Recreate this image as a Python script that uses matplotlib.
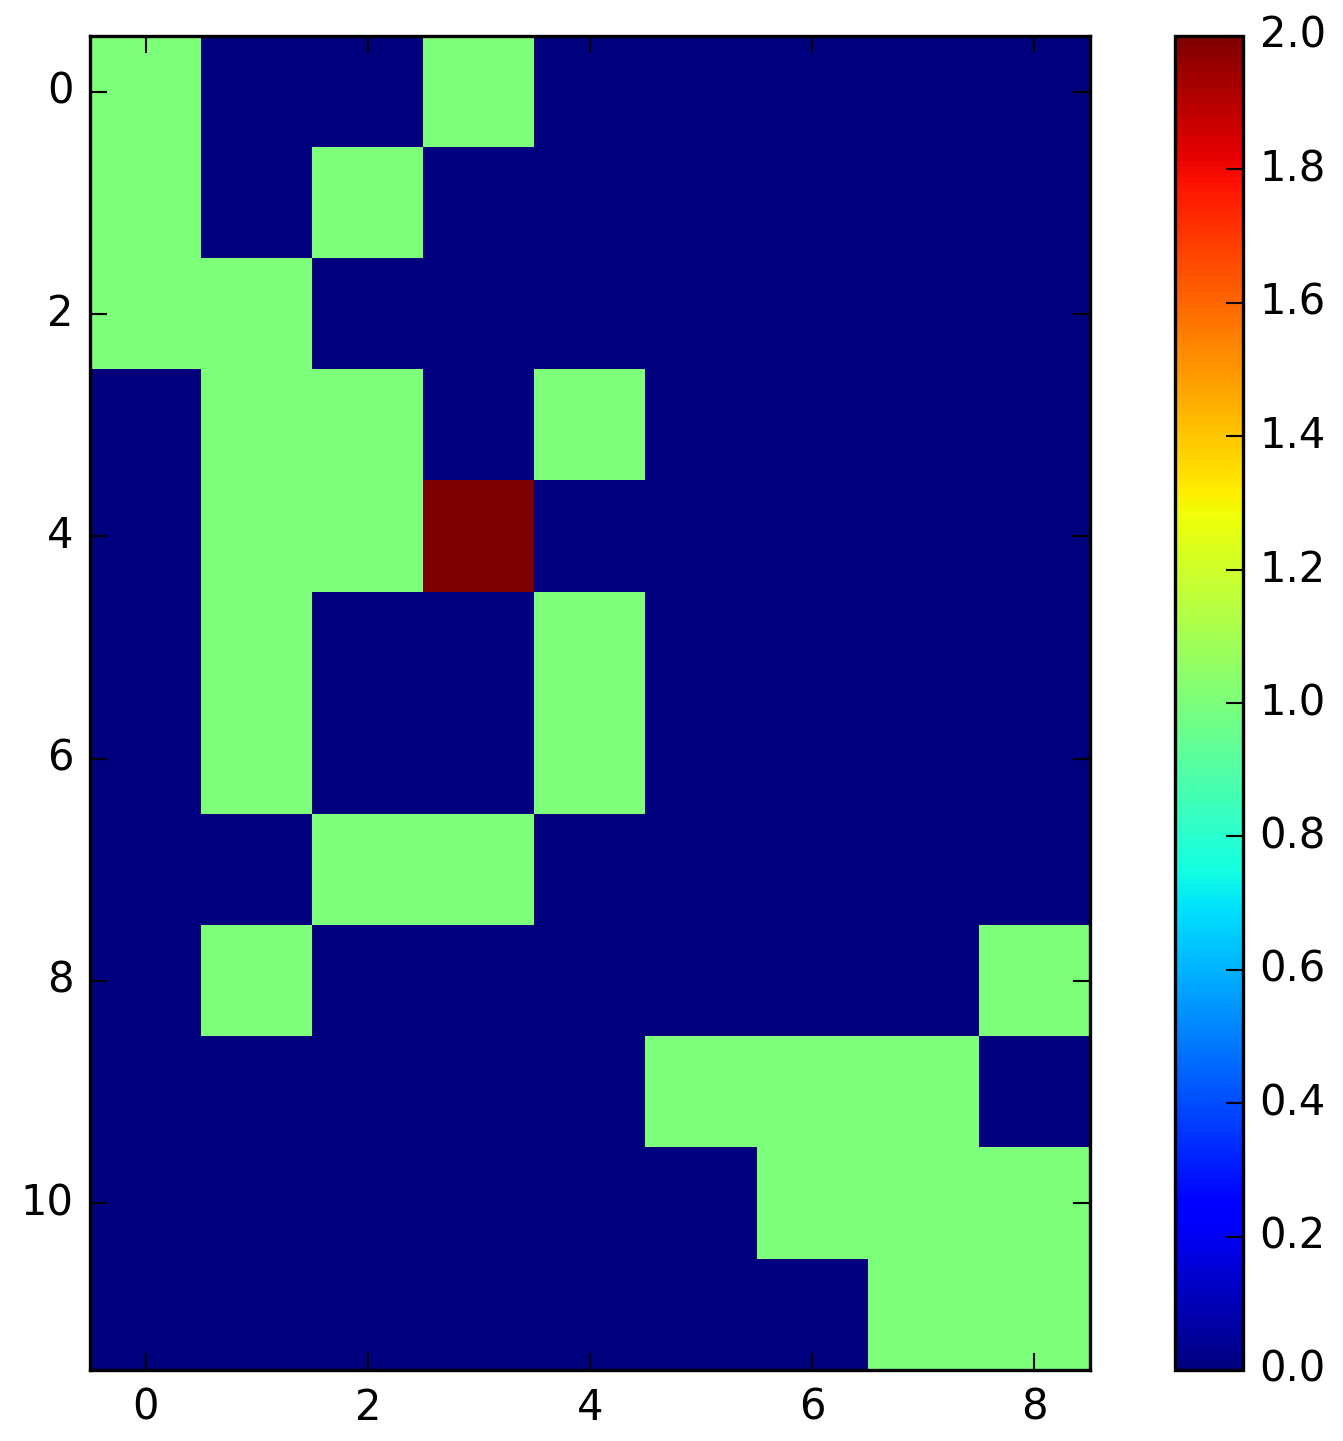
import numpy as np
import matplotlib
matplotlib.use("Agg")
import matplotlib.pyplot as plt

# Grid of cell values (rows top to bottom, 9 columns)
grid = [
    [1, 0, 0, 1, 0, 0, 0, 0, 0],
    [1, 0, 1, 0, 0, 0, 0, 0, 0],
    [1, 1, 0, 0, 0, 0, 0, 0, 0],
    [0, 1, 1, 0, 1, 0, 0, 0, 0],
    [0, 1, 1, 2, 0, 0, 0, 0, 0],
    [0, 1, 0, 0, 1, 0, 0, 0, 0],
    [0, 1, 0, 0, 1, 0, 0, 0, 0],
    [0, 0, 1, 1, 0, 0, 0, 0, 0],
    [0, 1, 0, 0, 0, 0, 0, 0, 1],
    [0, 0, 0, 0, 0, 1, 1, 1, 0],
    [0, 0, 0, 0, 0, 0, 1, 1, 1],
    [0, 0, 0, 0, 0, 0, 0, 1, 1],
]

plt.style.use("classic")
plt.rcParams["font.size"] = 10
plt.rcParams["axes.linewidth"] = 0.8

W, H = 1343, 1441
fig = plt.figure(figsize=(W / 300, H / 300), dpi=300)

ax = fig.add_axes([90 / W, 1 - 1370 / H, 1000 / W, 1334 / H])
im = ax.imshow(np.array(grid), cmap="jet", interpolation="nearest",
               vmin=0, vmax=2, aspect="auto")
ax.set_xticks([0, 2, 4, 6, 8])
ax.set_yticks([0, 2, 4, 6, 8, 10])

cax = fig.add_axes([1175 / W, 1 - 1370 / H, 68 / W, 1334 / H])
cb = fig.colorbar(im, cax=cax)
cb.set_ticks(np.arange(0, 2.01, 0.2))
cb.outline.set_linewidth(0.8)

fig.savefig("out.png", dpi=300)
